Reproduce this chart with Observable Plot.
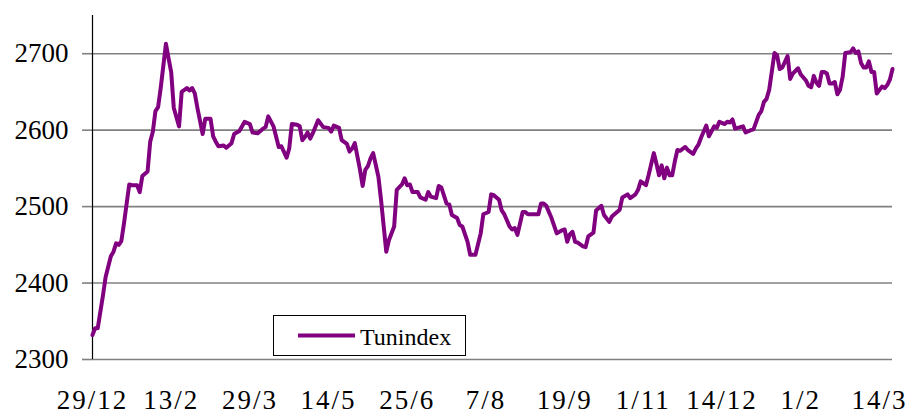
<!DOCTYPE html>
<html>
<head>
<meta charset="utf-8">
<script src="https://cdn.jsdelivr.net/npm/d3@7"></script>
<script src="https://cdn.jsdelivr.net/npm/@observablehq/plot@0.6"></script>
<style>
  html, body { margin: 0; padding: 0; background: #fff; }
  #wrap { position: relative; width: 920px; height: 415px; font-family: "Liberation Serif", "DejaVu Serif", serif; }
  #wrap svg text { font-family: "Liberation Serif", "DejaVu Serif", serif; }
  #legend { position: absolute; left: 273px; top: 315px; }
</style>
</head>
<body>
<div id="wrap"></div>
<script>
// Trading-day index (x) and Tunindex level (y)
const tradingDay = [
  0,1,2,4,5,7,8,9,10,11,
  12,14,15,17,18,19,21,22,23,24,
  25,26,28,29,30,31,33,34,36,37,
  38,39,40,42,43,45,46,47,48,50,
  51,53,54,56,58,60,61,63,65,66,
  67,69,71,72,74,75,76,78,79,80,
  81,82,83,84,86,88,90,91,92,94,
  95,97,98,99,100,102,103,104,105,106,
  107,109,110,112,113,115,116,118,119,120,
  121,122,124,125,127,128,129,131,132,133,
  135,136,137,139,140,141,143,144,145,146,
  148,149,151,152,153,155,156,157,159,160,
  161,162,164,165,166,170,171,172,173,175,
  177,179,180,181,182,183,184,185,187,188,
  189,191,192,194,195,197,198,199,201,202,
  204,205,207,208,209,211,212,214,215,216,
  217,218,219,220,221,222,223,224,226,227,
  229,230,231,232,234,235,237,238,239,241,
  242,243,244,245,247,248,249,251,252,254,
  255,256,257,258,260,261,262,263,265,266,
  267,269,270,272,273,274,275,276,277,278,
  279,280,281,282,283,284,285,286,287,289,
  290,291,292,293,294,295,296,297,298,299,
  301,302,303,304,305
];
const tunindex = [
  2332,2341,2341,2384,2408,2435,2441,2452,2450,2455,
  2478,2529,2528,2528,2519,2540,2546,2585,2598,2625,
  2630,2655,2713,2694,2676,2629,2605,2650,2655,2652,
  2655,2648,2629,2595,2615,2615,2592,2585,2579,2580,
  2577,2583,2595,2599,2611,2608,2597,2596,2602,2604,
  2618,2605,2578,2579,2564,2576,2608,2607,2605,2587,
  2591,2597,2589,2596,2613,2604,2603,2598,2606,2603,
  2587,2582,2572,2576,2583,2548,2527,2548,2553,2563,
  2570,2539,2509,2441,2456,2474,2522,2529,2537,2528,
  2529,2519,2519,2512,2509,2519,2513,2511,2527,2525,
  2504,2503,2489,2485,2476,2474,2454,2437,2437,2437,
  2465,2490,2493,2516,2515,2509,2495,2490,2474,2470,
  2472,2463,2493,2493,2490,2490,2504,2504,2501,2485,
  2465,2469,2470,2454,2464,2467,2454,2453,2448,2447,
  2461,2466,2495,2501,2489,2480,2487,2490,2496,2512,
  2516,2511,2516,2522,2533,2528,2541,2570,2556,2541,
  2554,2537,2551,2541,2541,2559,2574,2573,2578,2574,
  2569,2576,2581,2590,2606,2592,2605,2603,2611,2608,
  2611,2610,2614,2602,2604,2605,2597,2600,2601,2620,
  2625,2637,2641,2653,2701,2698,2680,2682,2697,2667,
  2674,2681,2673,2665,2658,2656,2671,2662,2658,2676,
  2676,2674,2661,2661,2663,2647,2653,2670,2701,2702,
  2707,2701,2703,2688,2682,2682,2690,2676,2676,2648,
  2657,2655,2659,2666,2680
];
const tickDays = [0, 30, 60, 90, 120, 150, 180, 210, 240, 270, 300];
const tickLabels = ["29/12","13/2","29/3","14/5","25/6","7/8","19/9","1/11","14/12","1/2","14/3"];
const yTicks = [2300, 2400, 2500, 2600, 2700];
const seriesName = "Tunindex";

const data = tradingDay.map((d, i) => ({day: d, value: tunindex[i]}));
const FONT = '"Liberation Serif", "DejaVu Serif", serif';

const chart = Plot.plot({
  width: 920,
  height: 415,
  marginLeft: 92,
  marginRight: 28,
  marginTop: 15,
  marginBottom: 56,
  style: {fontFamily: FONT, fontSize: "27px", color: "#000", background: "#fff"},
  x: {domain: [0, 305]},
  y: {domain: [2300, 2750]},
  marks: [
    Plot.gridY(yTicks, {stroke: "#808080", strokeOpacity: 1, strokeWidth: 1.6}),
    Plot.axisY(yTicks, {tickSize: 10, tickPadding: 14, stroke: "#808080", strokeWidth: 1.6, fontSize: 27, label: null,
      tickFormat: d => String(d)}),
    Plot.axisX(tickDays, {tickSize: 0, tickPadding: 30, fontSize: 27, label: null,
      tickFormat: d => tickLabels[tickDays.indexOf(d)]}),
    Plot.ruleX([0], {stroke: "#000", strokeWidth: 1.2}),
    Plot.line(data, {x: "day", y: "value", stroke: "#800080", strokeWidth: 4, strokeLinejoin: "round"})
  ]
});
chart.querySelectorAll("g[aria-label='x-axis tick label'] text").forEach(t => t.setAttribute("letter-spacing", "2"));
document.getElementById("wrap").appendChild(chart);

// Legend box inside the plot area
const ns = "http://www.w3.org/2000/svg";
const leg = document.createElementNS(ns, "svg");
leg.setAttribute("id", "legend");
leg.setAttribute("width", "194");
leg.setAttribute("height", "42");
leg.innerHTML = `
  <rect x="0.5" y="0.5" width="192" height="40" fill="#fff" stroke="#000" stroke-width="1"/>
  <line x1="25" x2="82" y1="20.5" y2="20.5" stroke="#800080" stroke-width="4"/>
  <text x="87" y="30" font-size="24" fill="#000">${seriesName}</text>`;
leg.querySelector("text").style.fontFamily = FONT;
document.getElementById("wrap").appendChild(leg);
</script>
</body>
</html>
